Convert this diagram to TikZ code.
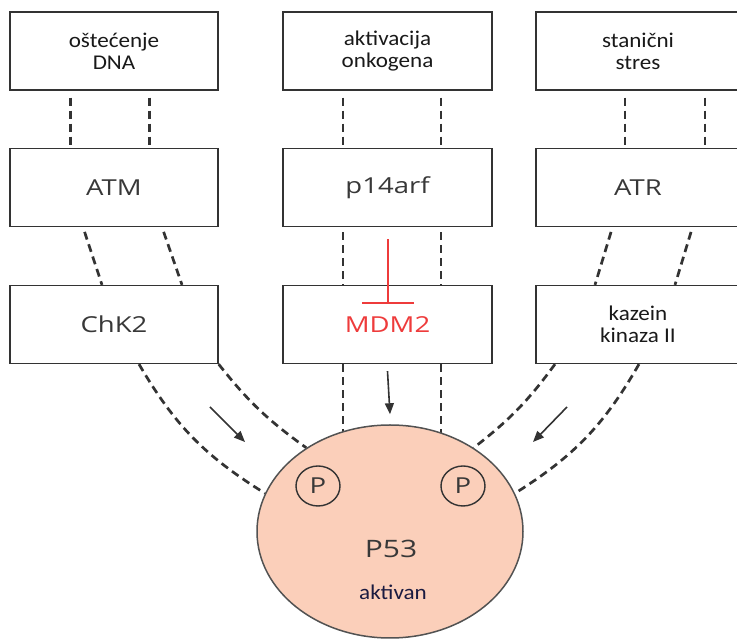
\documentclass[tikz,border=0pt]{standalone}
\usepackage{fontspec}
\setmainfont{Carlito}[FakeStretch=1.1]
\newfontfamily\boxfont{Open Sans}[FakeStretch=1.25]
\usetikzlibrary{arrows.meta,backgrounds,shapes.geometric}
\definecolor{linegray}{HTML}{333333}
\definecolor{textgray}{HTML}{383838}
\definecolor{inhibred}{HTML}{EE3B3B}
\definecolor{pfill}{HTML}{FBCFBA}
\definecolor{navy}{HTML}{1A1A40}
\begin{document}
\begin{tikzpicture}[x=1pt,y=1pt,
  box/.style={draw=linegray,line width=1.3pt,fill=white,minimum height=78pt,inner sep=0pt},
  cause/.style={box,font=\fontsize{21}{22}\selectfont,align=center,text=black!90},
  kinase/.style={box,font=\boxfont\fontsize{22}{24}\selectfont,text=textgray},
  link/.style={draw=linegray,line width=2.7pt,dash pattern=on 8pt off 5pt},
  push/.style={draw=linegray,line width=1.6pt,-{Triangle[length=11pt,width=9pt]}},
  inhib/.style={draw=inhibred,line width=2pt,-{Bar[width=52pt]}},
  phos/.style={ellipse,draw=linegray,line width=1.4pt,minimum width=44pt,minimum height=40pt,
    inner sep=0pt,font=\boxfont\fontsize{22}{22}\selectfont,text=textgray}]
  \clip (0,0) rectangle (737,640);
  % signals:
  \node[cause,minimum width=208pt] (dna) at (114,589) {oštećenje\\DNA};
  \node[cause,minimum width=209pt] (onk) at (387.5,589) {aktivacija\\onkogena};
  \node[cause,minimum width=204pt] (stres) at (638,589) {stanični\\stres};
  % kinases:
  \node[kinase,minimum width=208pt] (atm) at (114,452.5) {ATM};
  \node[kinase,minimum width=209pt] (arf) at (387.5,452.5) {p14arf};
  \node[kinase,minimum width=204pt] (atr) at (638,452.5) {ATR};
  \node[kinase,minimum width=208pt] (chk) at (114,315.5) {ChK2};
  \node[kinase,minimum width=209pt,text=inhibred] (mdm) at (387.5,315.5) {MDM2};
  \node[cause,minimum width=204pt] (kaz) at (638,315.5) {kazein\\kinaza II};
  % p53:
  \node[ellipse,draw=linegray!85,line width=1.5pt,fill=pfill,minimum width=266pt,
    minimum height=213pt,inner sep=0pt] (p53) at (390,108.5) {};
  \node[phos] (pl) at (318,154) {P};
  \node[phos] (pr) at (463,154) {P};
  \node[font=\boxfont\fontsize{24}{24}\selectfont,text=textgray] (plabel) at (391,91) {P53};
  \node[font=\fontsize{21}{21}\selectfont,text=navy] (akt) at (393,48) {aktivan};
  % dashed links:
  \begin{scope}[on background layer]
    \foreach \xa in {70.5,149.5} \draw[link,shorten <=7pt] (dna.south -| \xa,0) -- (atm.north -| \xa,0);
    \foreach \xa in {343,441} \draw[link,shorten <=7pt] (onk.south -| \xa,0) -- (arf.north -| \xa,0);
    \foreach \xa in {625,705} \draw[link,shorten <=7pt] (stres.south -| \xa,0) -- (atr.north -| \xa,0);
    \draw[link,shorten <=5pt] (atm.south -| 83,0) -- (chk.north -| 102,0);
    \draw[link,shorten <=5pt] (atm.south -| 162,0) -- (chk.north -| 182,0);
    \foreach \xa in {343,441} \draw[link,shorten <=5pt] (arf.south -| \xa,0) -- (mdm.north -| \xa,0);
    \draw[link,shorten <=5pt] (atr.south -| 612.5,0) -- (kaz.north -| 595,0);
    \draw[link,shorten <=5pt] (atr.south -| 692.5,0) -- (kaz.north -| 675,0);
    \foreach \xa in {343,441} \draw[link] (mdm.south -| \xa,0) -- (p53.center -| \xa,0);
    \draw[link] (chk.south -| 139,0) to[bend right=14] (p53.163);
    \draw[link] (chk.south east) to[bend right=8] (p53.135);
    \draw[link] (kaz.south -| 555,0) to[bend left=8] (p53.45);
    \draw[link] (kaz.south -| 639,0) to[bend left=14] (p53.17);
  \end{scope}
  % arrows:
  \draw[inhib] ([yshift=-12pt]arf.south) -- ([yshift=20pt]mdm.center);
  \draw[push] ([yshift=-7pt]mdm.south) -- ([yshift=10pt]p53.north);
  \coordinate (la) at (210,233);
  \coordinate (ra) at (567,233);
  \draw[push] (la) -- ++(35,-35);
  \draw[push] (ra) -- ++(-34,-35);
\end{tikzpicture}
\end{document}
